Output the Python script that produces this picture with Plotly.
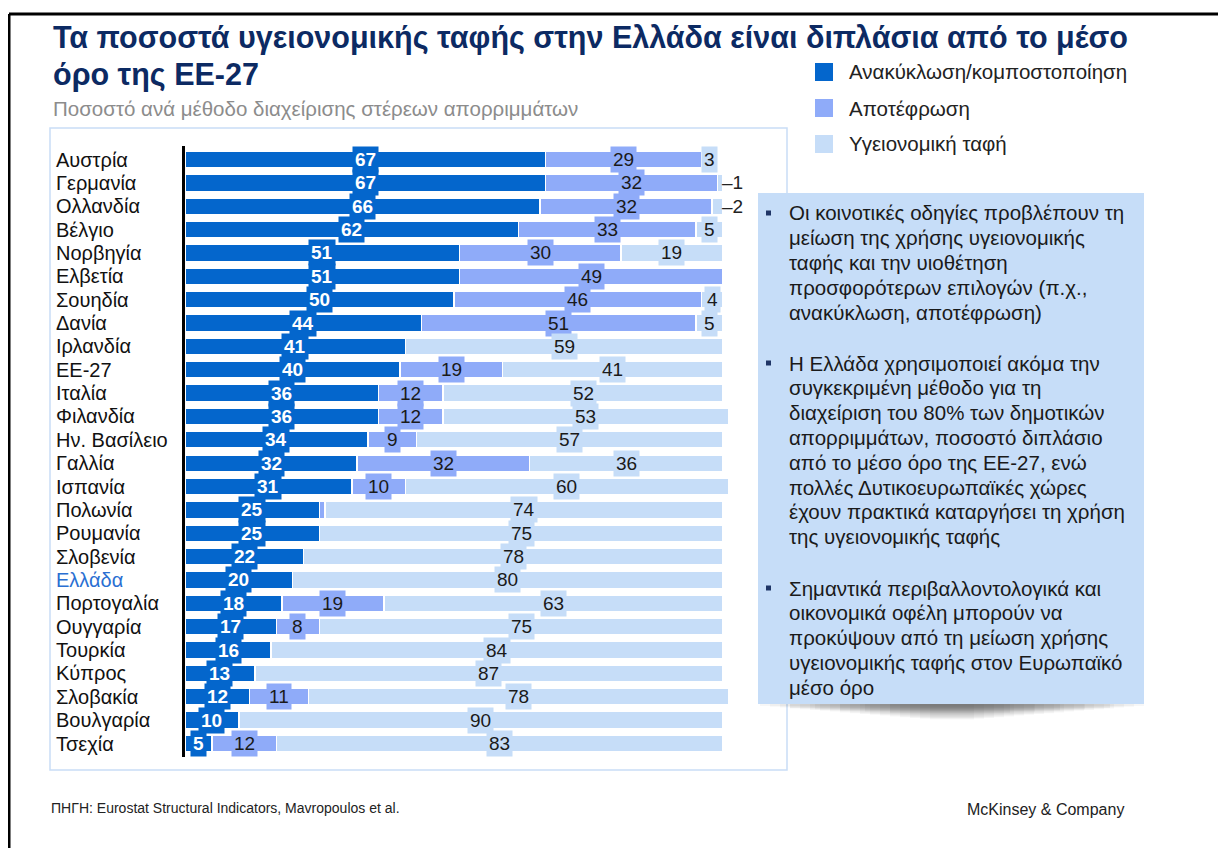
import plotly.graph_objects as go

W, H = 1226, 848

countries = ["Αυστρία", "Γερμανία", "Ολλανδία", "Βέλγιο", "Νορβηγία", "Ελβετία",
             "Σουηδία", "Δανία", "Ιρλανδία", "ΕΕ-27", "Ιταλία", "Φιλανδία",
             "Ην. Βασίλειο", "Γαλλία", "Ισπανία", "Πολωνία", "Ρουμανία", "Σλοβενία",
             "Ελλάδα", "Πορτογαλία", "Ουγγαρία", "Τουρκία", "Κύπρος", "Σλοβακία",
             "Βουλγαρία", "Τσεχία"]
recycling = [67, 67, 66, 62, 51, 51, 50, 44, 41, 40, 36, 36, 34, 32, 31, 25, 25, 22,
             20, 18, 17, 16, 13, 12, 10, 5]
incineration = [29, 32, 32, 33, 30, 49, 46, 51, 0, 19, 12, 12, 9, 32, 10, 1, 0, 0,
                0, 19, 8, 0, 0, 11, 0, 12]
landfill = [3, 1, 2, 5, 19, 0, 4, 5, 59, 41, 52, 53, 57, 36, 60, 74, 75, 78,
            80, 63, 75, 84, 87, 78, 90, 83]

series_names = ["Ανακύκλωση/κομποστοποίηση", "Αποτέφρωση", "Υγειονομική ταφή"]
colors = ["#0466CC", "#8FABF9", "#C6DDF8"]

title_lines = ["Τα ποσοστά υγειονομικής ταφής στην Ελλάδα είναι διπλάσια από το μέσο",
               "όρο της ΕΕ-27"]
subtitle = "Ποσοστό ανά μέθοδο διαχείρισης στέρεων απορριμμάτων"
bullets = [
    ["Οι κοινοτικές οδηγίες προβλέπουν τη", "μείωση της χρήσης υγειονομικής",
     "ταφής και την υιοθέτηση", "προσφορότερων επιλογών (π.χ.,",
     "ανακύκλωση, αποτέφρωση)"],
    ["Η Ελλάδα χρησιμοποιεί ακόμα την", "συγκεκριμένη μέθοδο για τη",
     "διαχείριση του 80% των δημοτικών", "απορριμμάτων, ποσοστό διπλάσιο",
     "από το μέσο όρο της ΕΕ-27, ενώ", "πολλές Δυτικοευρωπαϊκές χώρες",
     "έχουν πρακτικά καταργήσει τη χρήση", "της υγειονομικής ταφής"],
    ["Σημαντικά περιβαλλοντολογικά και", "οικονομικά οφέλη μπορούν να",
     "προκύψουν από τη μείωση χρήσης", "υγειονομικής ταφής στον Ευρωπαϊκό",
     "μέσο όρο"],
]
source = "ΠΗΓΗ: Eurostat Structural Indicators, Mavropoulos et al."
brand = "McKinsey & Company"

FONT = "Liberation Sans, Arial, sans-serif"
OFF = 8  # page body margin


def px(x):
    return (x - OFF) / W


def py(y):
    return 1 - (y - OFF) / H


fig = go.Figure()
series = [recycling, incineration, landfill]
for name, vals, col in zip(series_names, series, colors):
    fig.add_trace(go.Bar(
        y=countries, x=vals, name=name, orientation="h",
        marker=dict(color=col, line=dict(color="white", width=1.5)),
        width=0.72, showlegend=False, hoverinfo="x+y+name",
    ))

ann = []
shapes = []

# value labels
for i, c in enumerate(countries):
    start = 0
    for k, vals in enumerate(series):
        v = vals[i]
        if v > 0 and not (k == 1 and c == "Πολωνία"):
            if v < 3:
                ann.append(dict(x=99.5, y=c, xref="x", yref="y", text="\u2013" + str(v),
                                showarrow=False, xanchor="left",
                                font=dict(family=FONT, size=19, color="#222")))
            else:
                ann.append(dict(
                    x=start + v / 2, y=c, xref="x", yref="y",
                    text=("<b>%d</b>" % v) if k == 0 else str(v),
                    showarrow=False, bgcolor=colors[k], borderpad=2,
                    font=dict(family=FONT, size=19,
                              color="white" if k == 0 else "#1a1a1a")))
        start += v

# country names
for c in countries:
    ann.append(dict(x=px(54), y=c, xref="paper", yref="y", text=c, showarrow=False,
                    xanchor="left",
                    font=dict(family=FONT, size=20,
                              color="#2A6FD2" if c == "Ελλάδα" else "#111")))

# title and subtitle
for t, yc in zip(title_lines, [37, 74]):
    ann.append(dict(x=px(51), y=py(yc), xref="paper", yref="paper", text="<b>" + t + "</b>",
                    showarrow=False, xanchor="left", yanchor="middle",
                    font=dict(family=FONT, size=30.5, color="#0C2A63")))
ann.append(dict(x=px(51), y=py(108), xref="paper", yref="paper", text=subtitle,
                showarrow=False, xanchor="left", yanchor="middle",
                font=dict(family=FONT, size=20.5, color="#8C8C8C")))

# legend
for j, (name, col) in enumerate(zip(series_names, colors)):
    yc = 72 + 36 * j
    shapes.append(dict(type="rect", xref="paper", yref="paper", x0=px(815), x1=px(833),
                       y0=py(yc + 9), y1=py(yc - 9), fillcolor=col, line=dict(width=0)))
    ann.append(dict(x=px(847), y=py(yc), xref="paper", yref="paper", text=name,
                    showarrow=False, xanchor="left", yanchor="middle",
                    font=dict(family=FONT, size=20.5, color="#222")))

# chart frame
shapes.append(dict(type="rect", xref="paper", yref="paper", x0=px(50), x1=px(787),
                   y0=py(770), y1=py(128), line=dict(color="#C9DDF6", width=1.5),
                   layer="below"))

# callout soft shadow + box
for s in range(18):
    shapes.append(dict(type="rect", xref="paper", yref="paper",
                       x0=px(760 + s * 10), x1=px(1144 - s * 10),
                       y0=py(706 + s * 0.8), y1=py(704),
                       fillcolor="#333", opacity=0.04, line=dict(width=0)))
for s in range(5):
    shapes.append(dict(type="rect", xref="paper", yref="paper",
                       x0=px(790 + s * 25), x1=px(1110 - s * 25),
                       y0=py(708 + s * 1.2), y1=py(704),
                       fillcolor="#333", opacity=0.05, line=dict(width=0)))
shapes.append(dict(type="rect", xref="paper", yref="paper", x0=px(758), x1=px(1144),
                   y0=py(704), y1=py(193), fillcolor="#C6DDF8", line=dict(width=0)))

starts = [213, 363, 588]
for lines, y0 in zip(bullets, starts):
    shapes.append(dict(type="rect", xref="paper", yref="paper", x0=px(766), x1=px(771),
                       y0=py(y0 + 2.5), y1=py(y0 - 2.5), fillcolor="#1F3566",
                       line=dict(width=0)))
    for n, line in enumerate(lines):
        ann.append(dict(x=px(787), y=py(y0 + n * 24.8), xref="paper", yref="paper",
                        text=line, showarrow=False, xanchor="left", yanchor="middle",
                        font=dict(family=FONT, size=20.5, color="#1a1a1a")))

# footer
ann.append(dict(x=px(49), y=py(808), xref="paper", yref="paper", text=source,
                showarrow=False, xanchor="left", yanchor="middle",
                font=dict(family=FONT, size=14, color="#222")))
ann.append(dict(x=px(1126), y=py(809), xref="paper", yref="paper", text=brand,
                showarrow=False, xanchor="right", yanchor="middle",
                font=dict(family=FONT, size=16, color="#222")))

# page border (top and left)
shapes.append(dict(type="line", xref="paper", yref="paper", x0=px(9), x1=1,
                   y0=py(14), y1=py(14), line=dict(color="black", width=3)))
shapes.append(dict(type="line", xref="paper", yref="paper", x0=px(9), x1=px(9),
                   y0=py(14), y1=0, line=dict(color="black", width=3)))

# x range extends past 100 so the small outside labels stay visible
fig.update_layout(
    width=W, height=H,
    margin=dict(l=0, r=0, t=0, b=0),
    paper_bgcolor="white", plot_bgcolor="rgba(0,0,0,0)",
    barmode="stack",
    xaxis=dict(domain=[px(185), px(185 + 5.38 * 106)], range=[0, 106], visible=False,
               fixedrange=True),
    yaxis=dict(domain=[py(757), py(146)], autorange="reversed", showticklabels=False,
               ticks="", showgrid=False, showline=True, linecolor="black", linewidth=2.5,
               zeroline=False),
    annotations=ann, shapes=shapes,
)

fig.write_html("out.html")
